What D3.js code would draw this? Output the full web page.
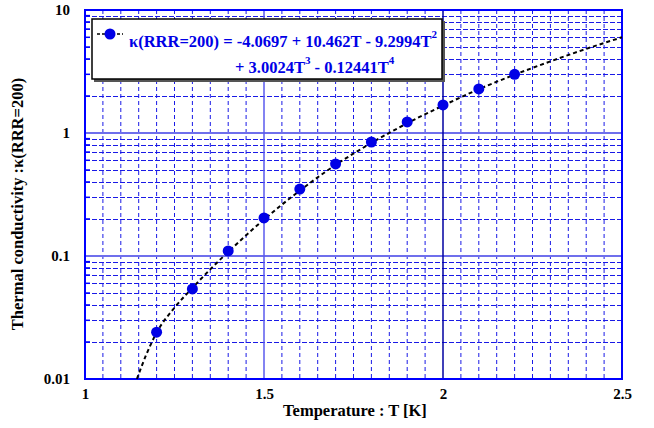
<!DOCTYPE html>
<html><head><meta charset="utf-8">
<script src="https://cdn.jsdelivr.net/npm/d3@7"></script>
<style>body{margin:0;background:#fff}svg{display:block}text{font-family:"Liberation Serif","Times New Roman",serif;font-weight:bold}</style>
</head><body>
<script>
// Data
const dataT = [1.2, 1.3, 1.4, 1.5, 1.6, 1.7, 1.8, 1.9, 2.0, 2.1, 2.2];
const dataK = [0.024, 0.054, 0.11, 0.204, 0.35, 0.56, 0.845, 1.23, 1.69, 2.28, 3.0];
const fitT = [1.145, 1.17, 1.2, 1.25, 1.3, 1.35, 1.4, 1.5, 1.6, 1.7, 1.8, 1.9, 2.0, 2.1, 2.2, 2.3, 2.4, 2.5];
const fitK = [0.01, 0.0155, 0.0238, 0.038, 0.055, 0.078, 0.108, 0.198, 0.34, 0.55, 0.83, 1.2, 1.67, 2.27, 2.98, 3.82, 4.83, 6.0];
const xTicks = [1, 1.5, 2, 2.5];
const xTickLabels = ["1", "1.5", "2", "2.5"];
const yTicks = [0.01, 0.1, 1, 10];
const yTickLabels = ["0.01", "0.1", "1", "10"];
const legendLine1 = "\u03BA(RRR=200) = -4.0697 + 10.462T - 9.2994T";
const legendLine2a = "+ 3.0024T";
const legendLine2b = " - 0.12441T";

const W = 654, H = 428;
const m = {l: 85, r: 622, t: 10, b: 379};
const svg = d3.select("body").append("svg").attr("width", W).attr("height", H);
const x = d3.scaleLinear().domain([1, 2.5]).range([m.l, m.r]);
const y = d3.scaleLog().domain([0.01, 10]).range([m.b, m.t]);
const font = "Liberation Serif";

const g = svg.append("g");
const xMinor = d3.range(1.05, 2.5, 0.05).filter(v => Math.abs(v - 1.5) > 1e-6 && Math.abs(v - 2) > 1e-6);
g.selectAll(".vx").data(xMinor).join("line")
  .attr("x1", d => x(d)).attr("x2", d => x(d)).attr("y1", m.t).attr("y2", m.b)
  .attr("stroke", "#1a1ae6").attr("stroke-width", 1).attr("stroke-dasharray", "4,3");
const yMinor = [];
[0.01, 0.1, 1].forEach(dec => { for (let i = 2; i <= 9; i++) yMinor.push(dec * i); });
g.selectAll(".hy").data(yMinor).join("line")
  .attr("x1", m.l).attr("x2", m.r).attr("y1", d => Math.round(y(d)) + 0.5).attr("y2", d => Math.round(y(d)) + 0.5)
  .attr("stroke", "#1a1ae6").attr("stroke-width", 1).attr("stroke-dasharray", "5,2");
g.selectAll(".hmaj").data([0.1, 1]).join("line")
  .attr("x1", m.l).attr("x2", m.r).attr("y1", d => y(d)).attr("y2", d => y(d))
  .attr("stroke", "#6f6fec").attr("stroke-width", 2);
g.append("line").attr("x1", x(1.5)).attr("x2", x(1.5)).attr("y1", m.t).attr("y2", m.b)
  .attr("stroke", "#5a5aee").attr("stroke-width", 1.5);
g.append("line").attr("x1", x(2)).attr("x2", x(2)).attr("y1", m.t).attr("y2", m.b)
  .attr("stroke", "#0000a0").attr("stroke-width", 1.5);
g.selectAll(".yt").data(yMinor).join("line")
  .attr("x1", m.l).attr("x2", m.l + 5).attr("y1", d => y(d)).attr("y2", d => y(d))
  .attr("stroke", "#0000ff").attr("stroke-width", 1.5);
g.append("rect").attr("x", m.l).attr("y", m.t).attr("width", m.r - m.l).attr("height", m.b - m.t)
  .attr("fill", "none").attr("stroke", "#0000ff").attr("stroke-width", 2);

const line = d3.line().x(d => x(d[0])).y(d => y(d[1])).curve(d3.curveMonotoneX);
svg.append("path").datum(fitT.map((t, i) => [t, fitK[i]]))
  .attr("d", line).attr("fill", "none").attr("stroke", "#000").attr("stroke-width", 2)
  .attr("stroke-dasharray", "4,3");

svg.selectAll(".pt").data(dataT.map((t, i) => [t, dataK[i]])).join("circle")
  .attr("cx", d => x(d[0])).attr("cy", d => y(d[1])).attr("r", 5.5).attr("fill", "#0000e6");

const xAxis = d3.axisBottom(x).tickValues(xTicks).tickSize(0).tickFormat((d, i) => xTickLabels[i]);
const xa = svg.append("g").attr("transform", `translate(0,${m.b + 6})`).call(xAxis).attr("font-family", null);
xa.select(".domain").remove();
xa.selectAll("text").style("font-family", font).attr("font-size", 15).attr("fill", "#000");
const yAxis = d3.axisLeft(y).tickValues(yTicks).tickSize(0).tickFormat((d, i) => yTickLabels[i]);
const ya = svg.append("g").attr("transform", `translate(${m.l - 12},0)`).call(yAxis).attr("font-family", null);
ya.select(".domain").remove();
ya.selectAll("text").style("font-family", font).attr("font-size", 15).attr("fill", "#000");

svg.append("text").attr("x", 355).attr("y", 416).attr("text-anchor", "middle")
  .attr("font-size", 16.5).text("Temperature : T [K]");
svg.append("text").attr("transform", `translate(23,204) rotate(-90)`).attr("text-anchor", "middle")
  .attr("font-size", 16.5).text("Thermal conductivity :\u03BA(RRR=200)");

const lg = svg.append("g");
lg.append("rect").attr("x", 94).attr("y", 21).attr("width", 351).attr("height", 61).attr("fill", "#555");
lg.append("rect").attr("x", 92).attr("y", 19).attr("width", 350).attr("height", 60).attr("fill", "#fff")
  .attr("stroke", "#000").attr("stroke-width", 1.5);
lg.append("line").attr("x1", 97).attr("x2", 123).attr("y1", 34).attr("y2", 34)
  .attr("stroke", "#000").attr("stroke-width", 1.5).attr("stroke-dasharray", "3,2");
lg.append("circle").attr("cx", 110).attr("cy", 34).attr("r", 5.5).attr("fill", "#0000e6");
const t1 = lg.append("text").attr("x", 129).attr("y", 47)
  .attr("font-size", 16.5).attr("fill", "#0000e6");
t1.append("tspan").text(legendLine1);
t1.append("tspan").attr("dy", -9).attr("font-size", 11).text("2");
const t2 = lg.append("text").attr("x", 235).attr("y", 73)
  .attr("font-size", 16.5).attr("fill", "#0000e6");
t2.append("tspan").text(legendLine2a);
t2.append("tspan").attr("dy", -9).attr("font-size", 11).text("3");
t2.append("tspan").attr("dy", 9).text(legendLine2b);
t2.append("tspan").attr("dy", -9).attr("font-size", 11).text("4");
</script>
</body></html>
